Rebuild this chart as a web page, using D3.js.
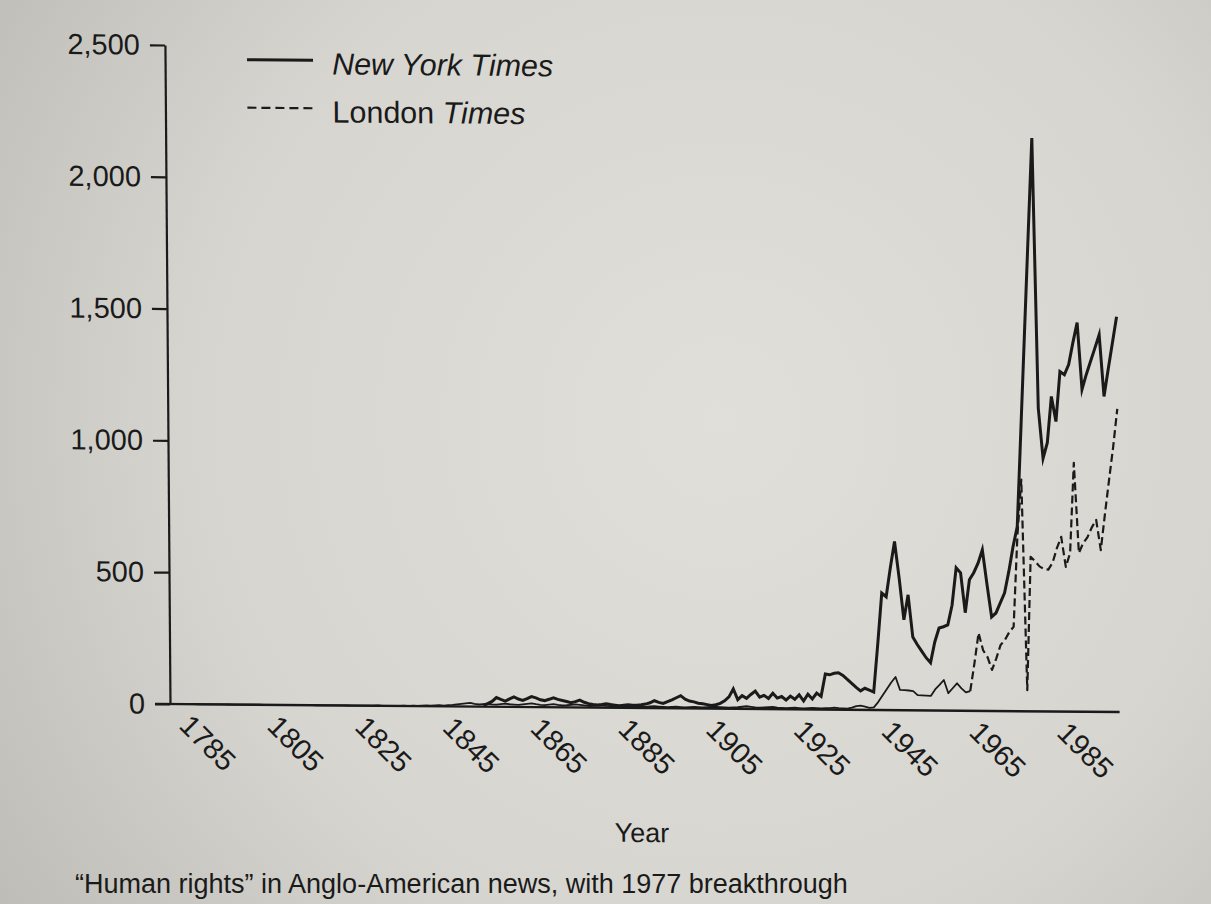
<!DOCTYPE html>
<html><head><meta charset="utf-8">
<script src="https://cdn.jsdelivr.net/npm/d3@7"></script>
<style>
html,body{margin:0;padding:0;background:#d6d4cf;}
svg{display:block;}
text{font-family:"Liberation Sans",Arial,Helvetica,sans-serif;fill:#1a1a1a;}
</style></head>
<body>
<svg id="chart" width="1211" height="904"></svg>
<script>
// ---------------- data ----------------
const yTicks = [0, 500, 1000, 1500, 2000, 2500];
const xTickYears = [1785, 1805, 1825, 1845, 1865, 1885, 1905, 1925, 1945, 1965, 1985];
const seriesNames = ["New York Times", "London Times"];

// New York Times, annual counts 1851-1996
const nytStartYear = 1851;
const nytValues = [
  5,12,20,35,28,22,30,38,30,25,          // 1851-1860
  32,40,35,28,25,30,36,30,26,22,         // 1861-1870
  18,22,28,20,15,12,10,12,15,12,         // 1871-1880
  10,8,10,12,10,10,12,15,20,28,          // 1881-1890
  22,18,25,32,40,48,35,28,25,20,         // 1891-1900
  18,15,12,15,20,30,45,75,35,50,         // 1901-1910
  40,55,68,45,52,40,60,42,48,35,         // 1911-1920
  50,38,55,32,58,40,62,50,135,132,       // 1921-1930
  138,140,130,115,100,85,72,82,75,68,    // 1931-1940
  250,444,430,540,640,500,343,438,278,250, // 1941-1950
  225,200,181,260,313,318,325,400,542,523, // 1951-1960
  372,497,524,560,611,480,357,372,410,449, // 1961-1970
  530,624,700,1070,1440,1810,2175,1150,960,1020, // 1971-1980
  1195,1100,1290,1278,1317,1400,1476,1223,1280,1330, // 1981-1990
  1380,1431,1197,1300,1400,1500          // 1991-1996
];

// London Times, annual counts 1785-1996
const ltStartYear = 1785;
const ltDashFromYear = 1962;
const ltValues = [
  0,0,0,0,0,0,0,0,0,0,                   // 1785-1794
  0,0,0,0,0,0,0,0,0,0,                   // 1795-1804
  0,0,0,0,0,0,0,0,0,0,                   // 1805-1814
  0,0,0,0,0,0,0,0,0,0,                   // 1815-1824
  0,0,1,0,0,0,0,0,1,0,                   // 1825-1834
  2,1,2,3,2,3,4,3,5,6,                   // 1835-1844
  8,10,12,14,10,8,10,12,9,8,             // 1845-1854
  10,12,10,9,8,10,12,14,11,9,            // 1855-1864
  8,10,12,9,7,8,10,12,10,8,              // 1865-1874
  6,7,8,9,7,6,5,6,7,5,                   // 1875-1884
  5,6,5,4,6,7,6,5,4,5,                   // 1885-1894
  6,5,4,5,6,5,4,5,6,7,                   // 1895-1904
  6,5,4,5,6,8,10,8,6,5,                  // 1905-1914
  6,7,8,6,5,4,5,6,5,4,                   // 1915-1924
  5,6,5,4,5,6,8,6,5,4,                   // 1925-1934
  8,14,16,12,8,                          // 1935-1939
  10,30,55,80,105,126,77,76,75,73,       // 1940-1949
  58,57,56,55,80,97,116,66,85,104,       // 1950-1959
  85,70,75,180,296,230,204,156,200,251,  // 1960-1969
  270,300,320,661,879,80,586,570,550,540, // 1970-1979
  538,565,620,663,549,602,944,602,640,663, // 1980-1989
  700,728,614,750,880,1006,1150          // 1990-1996
];

const legendNYT = "New York Times";
const captionText = "\u201CHuman rights\u201D in Anglo-American news, with 1977 breakthrough";
const xTitle = "Year";

// ---------------- drawing ----------------
const svg = d3.select("#chart");
const W = 1211, H = 904;

// paper background
const defs = svg.append("defs");
const rg = defs.append("radialGradient").attr("id","paper")
  .attr("cx", 720).attr("cy", 420).attr("r", 950).attr("gradientUnits","userSpaceOnUse");
rg.append("stop").attr("offset","0").attr("stop-color","#e1dfda");
rg.append("stop").attr("offset","0.55").attr("stop-color","#d7d5d0");
rg.append("stop").attr("offset","1").attr("stop-color","#b9b7b2");
svg.append("rect").attr("width",W).attr("height",H).attr("fill","url(#paper)");

// slight skew of the photographed page
const g = svg.append("g").attr("transform","matrix(1,0.0085,0.0077,1,-5.42,-1.445)");

const x = d3.scaleLinear().domain([1779.6, 1996]).range([170, 1119.6]);
const y = d3.scaleLinear().domain([0, 2500]).range([704, 45]);

const nyt = nytValues.map((v,i)=>({year: nytStartYear+i, value: v}));
const lt = ltValues.map((v,i)=>({year: ltStartYear+i, value: v}));

const line = d3.line().x(d=>x(d.year)).y(d=>y(d.value)).curve(d3.curveLinear);
const ink = "#1a1a1a";

// London Times: thin solid early part, dashed later part
g.append("path").datum(lt.filter(d=>d.year<=ltDashFromYear))
  .attr("d", line).attr("fill","none").attr("stroke",ink)
  .attr("stroke-width",1.8).attr("stroke-linejoin","round");
g.append("path").datum(lt.filter(d=>d.year>=ltDashFromYear))
  .attr("d", line).attr("fill","none").attr("stroke",ink)
  .attr("stroke-width",2.2).attr("stroke-dasharray","8,4").attr("stroke-linejoin","round");

// New York Times
g.append("path").datum(nyt)
  .attr("d", line).attr("fill","none").attr("stroke",ink)
  .attr("stroke-width",3).attr("stroke-linejoin","miter").attr("stroke-miterlimit",6);

// y axis
const yAxis = g.append("g").attr("transform","translate(170,0)")
  .call(d3.axisLeft(y).tickValues(yTicks).tickFormat(d3.format(",")).tickSize(15).tickSizeOuter(0).tickPadding(10));
yAxis.select(".domain").attr("stroke",ink).attr("stroke-width",2.2);
yAxis.selectAll(".tick line").attr("stroke",ink).attr("stroke-width",2.2);
yAxis.selectAll(".tick text").attr("font-size",29).attr("fill",ink)
  .attr("font-family","'Liberation Sans',Arial,sans-serif");

// x axis
const xAxis = g.append("g").attr("transform",`translate(0,${y(0)})`)
  .call(d3.axisBottom(x).tickValues(xTickYears).tickFormat(d3.format("d")).tickSize(0).tickSizeOuter(0));
xAxis.select(".domain").remove();
xAxis.selectAll(".tick text")
  .attr("font-size",29).attr("fill",ink).attr("font-family","'Liberation Sans',Arial,sans-serif")
  .attr("text-anchor","start").attr("dy",0).attr("y",0)
  .attr("transform","translate(-16.5,23) rotate(45)");
g.append("line").attr("x1",155).attr("x2",x(1996)).attr("y1",y(0)).attr("y2",y(0))
  .attr("stroke",ink).attr("stroke-width",2.4);

// x title
g.append("text").attr("x",641).attr("y",838).attr("text-anchor","middle")
  .attr("font-size",27).text(xTitle);

// legend
const lg = g.append("g");
lg.append("line").attr("x1",252).attr("x2",318).attr("y1",59).attr("y2",59)
  .attr("stroke",ink).attr("stroke-width",3);
lg.append("text").attr("x",337).attr("y",73).attr("font-size",30.5)
  .attr("font-style","italic").text(legendNYT);
lg.append("line").attr("x1",252).attr("x2",318).attr("y1",107).attr("y2",107)
  .attr("stroke",ink).attr("stroke-width",2.2).attr("stroke-dasharray","9,5");
const lt2 = lg.append("text").attr("x",337).attr("y",121).attr("font-size",30.5);
lt2.append("tspan").text("London ");
lt2.append("tspan").attr("font-style","italic").text("Times");

// caption
svg.append("text").attr("x",75).attr("y",893).attr("font-size",27).text(captionText);
</script>
</body></html>
